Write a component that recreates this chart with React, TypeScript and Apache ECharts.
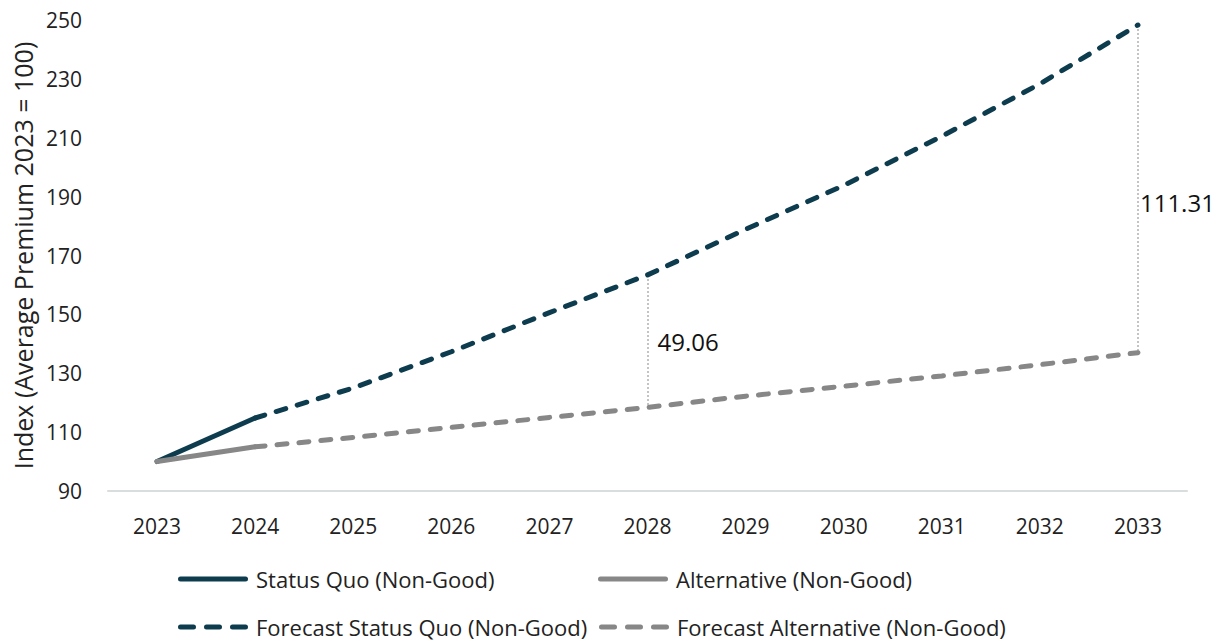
import React, { useEffect, useRef } from "react";
import * as echarts from "echarts";

const years = ["2023", "2024", "2025", "2026", "2027", "2028", "2029", "2030", "2031", "2032", "2033"];
const statusQuo = [100, 114.8, null, null, null, null, null, null, null, null, null];
const alternative = [100, 105.0, null, null, null, null, null, null, null, null, null];
const forecastStatusQuo = [null, 114.8, 125.0, 137.3, 150.6, 163.4, 178.9, 193.8, 210.5, 228.3, 248.3];
const forecastAlternative = [null, 105.0, 108.2, 111.6, 115.0, 118.4, 122.2, 125.6, 129.1, 132.9, 137.0];
const annotationYears = ["2028", "2033"];
const annotationLabels = ["49.06", "111.31"];
const yTicks = { min: 90, max: 250, interval: 20 };

const DARK = "#0e3c4f";
const GREY = "#878787";
const FONT = "'Open Sans', 'Noto Sans', sans-serif";

const SOLID_ICON = "path://M2.5,0 H67.5 A2.5,2.5 0 0 1 67.5,5 H2.5 A2.5,2.5 0 0 1 2.5,0 Z";
const DASH_ICON =
  "path://M2.5,0 H15.5 A2.5,2.5 0 0 1 15.5,5 H2.5 A2.5,2.5 0 0 1 2.5,0 Z " +
  "M28.5,0 H41.5 A2.5,2.5 0 0 1 41.5,5 H28.5 A2.5,2.5 0 0 1 28.5,0 Z " +
  "M54.5,0 H67.5 A2.5,2.5 0 0 1 67.5,5 H54.5 A2.5,2.5 0 0 1 54.5,0 Z";

export default function App() {
  const ref = useRef<HTMLDivElement>(null);
  useEffect(() => {
    document.body.style.margin = "0";
    if (!ref.current) return;
    const chart = echarts.init(ref.current, null, { renderer: "svg" });

    const annIdx = annotationYears.map((y) => years.indexOf(y));
    const markData = annIdx.map((i) => [
      { coord: [years[i], forecastStatusQuo[i]] },
      { coord: [years[i], forecastAlternative[i]] },
    ]);
    const labelOffsets = [[4, 0], [-4, 14]];
    const labelData = annIdx.map((i, k) => ({
      value: [years[i], ((forecastStatusQuo[i] as number) + (forecastAlternative[i] as number)) / 2],
      label: { formatter: annotationLabels[k], offset: labelOffsets[k], color: "#111" },
    }));

    const legendBase = {
      orient: "horizontal" as const,
      padding: 0,
      itemWidth: 70,
      itemHeight: 5,
      itemGap: 0,
      textStyle: { fontSize: 22, color: "#222", fontFamily: FONT, padding: [0, 0, 0, 3] },
    };

    chart.setOption({
      animation: false,
      textStyle: { fontFamily: FONT },
      grid: { left: 108, right: 28, top: 20, bottom: 153, containLabel: false },
      legend: [
        { ...legendBase, left: 178, top: 568, data: [{ name: "Status Quo (Non-Good)", icon: SOLID_ICON }] },
        { ...legendBase, left: 598, top: 568, data: [{ name: "Alternative (Non-Good)", icon: SOLID_ICON }] },
        { ...legendBase, left: 178, top: 616, data: [{ name: "Forecast Status Quo (Non-Good)", icon: DASH_ICON }] },
        { ...legendBase, left: 599, top: 616, data: [{ name: "Forecast Alternative (Non-Good)", icon: DASH_ICON }] },
      ],
      xAxis: {
        type: "category",
        data: years,
        boundaryGap: true,
        axisLine: { lineStyle: { color: "#d9dddd", width: 2 } },
        axisTick: { show: false },
        axisLabel: { color: "#222", fontSize: 21, margin: 24, fontFamily: FONT },
      },
      yAxis: {
        type: "value",
        min: yTicks.min,
        max: yTicks.max,
        interval: yTicks.interval,
        name: "Index (Average Premium 2023 = 100)",
        nameLocation: "middle",
        nameGap: 68,
        nameTextStyle: { fontSize: 25, color: "#222", fontFamily: FONT },
        axisLine: { show: false },
        axisTick: { show: false },
        splitLine: { show: false },
        axisLabel: { color: "#222", fontSize: 21, margin: 26, fontFamily: FONT },
      },
      series: [
        {
          name: "Status Quo (Non-Good)",
          type: "line",
          data: statusQuo,
          symbol: "none",
          lineStyle: { color: DARK, width: 5, cap: "round" },
          itemStyle: { color: DARK },
          z: 3,
        },
        {
          name: "Alternative (Non-Good)",
          type: "line",
          data: alternative,
          symbol: "none",
          lineStyle: { color: GREY, width: 5, cap: "round" },
          itemStyle: { color: GREY },
          z: 3,
        },
        {
          name: "Forecast Status Quo (Non-Good)",
          type: "line",
          data: forecastStatusQuo,
          symbol: "none",
          lineStyle: { color: DARK, width: 5, type: [10, 12], cap: "round" },
          itemStyle: { color: DARK },
          z: 3,
          markLine: {
            silent: true,
            symbol: "none",
            lineStyle: { color: "#c4c4c4", width: 2, type: [2, 2] },
            label: { show: false },
            data: markData,
            z: 1,
          },
        },
        {
          name: "Forecast Alternative (Non-Good)",
          type: "line",
          data: forecastAlternative,
          symbol: "none",
          lineStyle: { color: GREY, width: 5, type: [10, 12], cap: "round" },
          itemStyle: { color: GREY },
          z: 3,
        },
        {
          name: "annotations",
          type: "scatter",
          data: labelData,
          symbolSize: 0,
          silent: true,
          itemStyle: { opacity: 1, color: "#111" },
          label: {
            show: true,
            position: "right",
            distance: 6,
            fontSize: 24,
            color: "#111",
            opacity: 1,
            fontFamily: FONT,
          },
          z: 4,
        },
      ],
    });
    return () => chart.dispose();
  }, []);
  return <div ref={ref} style={{ width: 1215, height: 644 }} />;
}
